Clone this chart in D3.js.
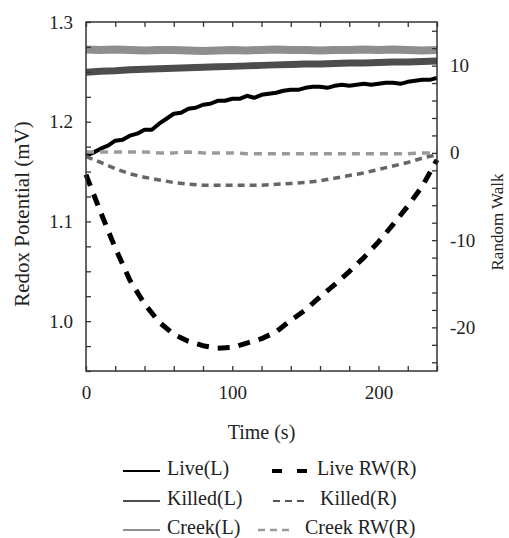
<!DOCTYPE html>
<html>
<head>
<meta charset="utf-8">
<script src="https://cdn.jsdelivr.net/npm/d3@7"></script>
<style>
  body{margin:0;background:#fff;}
</style>
</head>
<body>
<div id="chart"></div>
<script>
// time axis (s)
var timeMajor=[0,100,200];
var leftMajor=[1.0,1.1,1.2,1.3];
var rightMajor=[-20,-10,0,10];

// left axis series (mV), read every 5 s / 10 s
var liveT=[0,5,10,15,20,25,30,35,40,45,50,55,60,65,70,75,80,85,90,95,100,105,110,115,120,125,130,135,140,145,150,155,160,165,170,175,180,185,190,195,200,205,210,215,220,225,230,235,240];
var liveL=[1.166,1.169,1.173,1.176,1.181,1.182,1.186,1.188,1.192,1.192,1.198,1.203,1.208,1.209,1.213,1.214,1.217,1.218,1.221,1.221,1.223,1.223,1.226,1.224,1.227,1.228,1.229,1.231,1.232,1.232,1.234,1.235,1.235,1.234,1.236,1.237,1.236,1.237,1.238,1.237,1.238,1.239,1.239,1.238,1.240,1.241,1.242,1.242,1.244];
var bandT=[0,10,20,30,40,50,60,70,80,90,100,110,120,130,140,150,160,170,180,190,200,210,220,230,240];
var killedL=[1.2495,1.2505,1.251,1.252,1.2525,1.253,1.2535,1.254,1.2545,1.255,1.2555,1.256,1.2565,1.257,1.2575,1.258,1.258,1.2585,1.259,1.259,1.2595,1.260,1.260,1.2605,1.261];
var creekL=[1.2725,1.272,1.2725,1.272,1.2715,1.272,1.272,1.2715,1.271,1.2715,1.272,1.2715,1.272,1.2725,1.272,1.272,1.2715,1.272,1.272,1.2725,1.272,1.2725,1.272,1.2715,1.272];

// right axis random walks
var rwT=[0,10,20,30,40,50,60,70,80,90,100,110,120,130,140,150,160,170,180,190,200,210,220,230,240];
var liveRW=[-2.5,-6.8,-10.9,-14.6,-17.3,-19.4,-20.8,-21.6,-22.1,-22.4,-22.3,-21.8,-21.3,-20.5,-19.2,-18.0,-16.5,-15.1,-13.6,-12.0,-10.2,-8.2,-6.1,-3.8,-0.8];
var killedRW=[-0.4,-1.1,-1.8,-2.4,-2.8,-3.1,-3.4,-3.6,-3.7,-3.7,-3.7,-3.7,-3.7,-3.6,-3.5,-3.4,-3.2,-2.9,-2.6,-2.3,-1.9,-1.5,-1.1,-0.6,-0.2];
var creekRW=[0.1,0.1,0.1,0.1,0.1,0.0,0.0,0.1,0.0,0.0,0.0,-0.1,-0.1,-0.1,-0.1,-0.1,-0.1,-0.1,-0.1,-0.1,-0.1,-0.1,-0.1,0.0,0.0];

var FONT="Liberation Serif";
var width=509, height=538;
var margin={left:86,right:72,top:22,bottom:167};

var svg=d3.select("#chart").append("svg")
  .attr("width",width).attr("height",height);

var x=d3.scaleLinear().domain([0,240]).range([margin.left,width-margin.right]);
var yL=d3.scaleLinear().domain([0.95,1.3]).range([height-margin.bottom,margin.top]);
var yR=d3.scaleLinear().domain([-25,15]).range([height-margin.bottom,margin.top]);

var g=svg.append("g");

// lines
function drawLine(tt,vv,scale,color,w,dash){
  var line=d3.line()
    .x(function(d,i){return x(tt[i]);})
    .y(function(d){return scale(d);});
  var p=g.append("path")
    .datum(vv)
    .attr("fill","none")
    .attr("stroke",color)
    .attr("stroke-width",w)
    .attr("stroke-linejoin","round")
    .attr("d",line);
  if(dash) p.attr("stroke-dasharray",dash);
  return p;
}

drawLine(bandT,creekL,yL,"#8e8e8e",8);
drawLine(bandT,killedL,yL,"#4d4d4d",7);
drawLine(liveT,liveL,yL,"#000",4);
drawLine(rwT,creekRW,yR,"#9a9a9a",3.5,"8,6");
drawLine(rwT,killedRW,yR,"#666",3.5,"7,5");
drawLine(rwT,liveRW,yR,"#000",5,"12,9");

// frame
svg.append("rect")
  .attr("x",margin.left).attr("y",margin.top)
  .attr("width",width-margin.left-margin.right)
  .attr("height",height-margin.top-margin.bottom)
  .attr("fill","none").attr("stroke","#333").attr("stroke-width",1.5);

// inward ticks
var bottomAxis=d3.axisBottom(x).tickValues(d3.range(0,241,20)).tickSize(-5)
  .tickFormat(function(d){return timeMajor.indexOf(d)>=0?d:"";});
var topAxis=d3.axisTop(x).tickValues(d3.range(0,241,20)).tickSize(-5).tickFormat("");
var leftAxis=d3.axisLeft(yL).tickValues(d3.range(0,15).map(function(i){return 0.95+i*0.025;})).tickSize(-5)
  .tickFormat(function(d){
    var m=leftMajor.filter(function(v){return Math.abs(v-d)<1e-6;});
    return m.length?d3.format(".1f")(d):"";
  });
var rightAxis=d3.axisRight(yR).tickValues(d3.range(-24,15,2)).tickSize(-5)
  .tickFormat(function(d){return rightMajor.indexOf(d)>=0?d:"";});

function styleAxis(sel){
  sel.attr("font-family",FONT).attr("font-size",19);
  sel.select(".domain").remove();
  sel.selectAll("line").attr("stroke","#333").attr("stroke-width",1.3);
  sel.selectAll("text").attr("fill","#222");
}

svg.append("g").attr("transform","translate(0,"+(height-margin.bottom)+")")
  .call(bottomAxis).call(styleAxis)
  .selectAll("text").attr("dy","1.3em");
svg.append("g").attr("transform","translate(0,"+margin.top+")")
  .call(topAxis).call(styleAxis);
svg.append("g").attr("transform","translate("+margin.left+",0)")
  .call(leftAxis).call(styleAxis)
  .selectAll("text").attr("x",-13);
svg.append("g").attr("transform","translate("+(width-margin.right)+",0)")
  .call(rightAxis).call(styleAxis)
  .selectAll("text").attr("x",13);

function label(sel,size){
  return sel.attr("font-family",FONT).attr("font-size",size).attr("fill","#222");
}

// axis titles
svg.append("text")
  .attr("transform","translate(22,214) rotate(-90)")
  .attr("text-anchor","middle").attr("dy","0.35em")
  .call(label,21)
  .text("Redox Potential (mV)");
svg.append("text")
  .attr("transform","translate(497,222) rotate(-90)")
  .attr("text-anchor","middle").attr("dy","0.35em")
  .call(label,17)
  .text("Random Walk");
svg.append("text")
  .attr("x",x(120)).attr("y",432)
  .attr("text-anchor","middle").attr("dy","0.35em")
  .call(label,20)
  .text("Time (s)");

// legend
var legendNames=["Live(L)","Killed(L)","Creek(L)"];
var legendNamesR=["Live RW(R)","Killed(R)","Creek RW(R)"];
var legendColors=["#000","#4d4d4d","#8e8e8e"];
var legendColorsR=["#000","#555","#9a9a9a"];
var rowY=[468,498,527];
var lg=svg.append("g");
legendNames.forEach(function(n,i){
  lg.append("line").attr("x1",123).attr("x2",160).attr("y1",rowY[i]+3).attr("y2",rowY[i]+3)
    .attr("stroke",legendColors[i]).attr("stroke-width",1.8);
  lg.append("text").attr("x",167).attr("y",rowY[i]).attr("dy","0.35em")
    .call(label,20).text(n);
});
var rLine=[[272,310],[273,308],[258,292]];
var rText=[317,320,305];
var rDash=["10,15","7,5","7,5"];
var rWidth=[4,2,2.5];
legendNamesR.forEach(function(n,i){
  lg.append("line").attr("x1",rLine[i][0]).attr("x2",rLine[i][1]).attr("y1",rowY[i]+3).attr("y2",rowY[i]+3)
    .attr("stroke",legendColorsR[i]).attr("stroke-width",rWidth[i])
    .attr("stroke-dasharray",rDash[i]);
  lg.append("text").attr("x",rText[i]).attr("y",rowY[i]).attr("dy","0.35em")
    .call(label,20).text(n);
});
</script>
</body>
</html>
